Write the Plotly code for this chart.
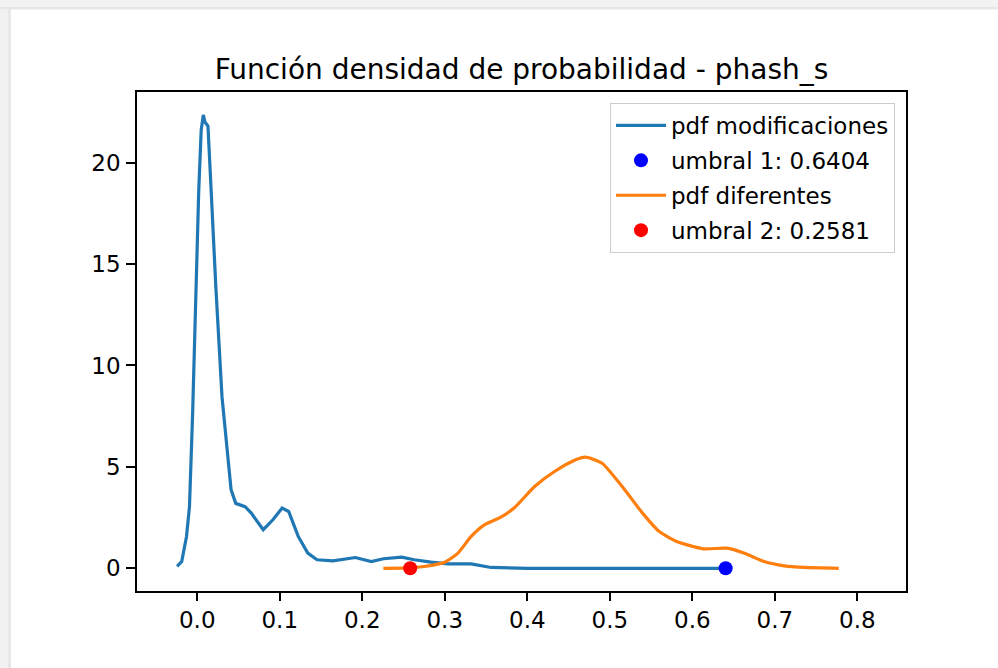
import plotly.graph_objects as go

# ---- data ----
mod_x = [-0.0244, -0.0188, -0.013, -0.0094, -0.0056, -0.0019, 0.0018, 0.0048, 0.0074, 0.0093,
         0.013, 0.0169, 0.0225, 0.030, 0.0355, 0.041, 0.0467, 0.058, 0.0655, 0.080,
         0.0917, 0.1029, 0.1108, 0.1224, 0.134, 0.1452, 0.1645, 0.1916, 0.211, 0.2256,
         0.248, 0.263, 0.2833, 0.304, 0.332, 0.356, 0.40, 0.50, 0.60, 0.6404]
mod_y = [0.09, 0.33, 1.57, 3.04, 7.6, 13.9, 18.6, 21.6, 22.35, 22.0,
         21.8, 18.6, 13.9, 8.46, 6.0, 3.87, 3.2, 3.04, 2.72, 1.9,
         2.39, 2.97, 2.8, 1.57, 0.75, 0.42, 0.37, 0.53, 0.33, 0.47,
         0.55, 0.42, 0.3, 0.22, 0.22, 0.04, 0.0, 0.0, 0.0, 0.0]

dif_x = [0.2256, 0.258, 0.275, 0.30, 0.316, 0.332, 0.348, 0.368, 0.384, 0.4089,
         0.433, 0.458, 0.4705, 0.4906, 0.515, 0.5397, 0.56, 0.581, 0.6135, 0.642,
         0.6625, 0.687, 0.7114, 0.7359, 0.7775]
dif_y = [0.0, 0.02, 0.09, 0.3, 0.75, 1.57, 2.14, 2.52, 2.97, 4.03,
         4.77, 5.34, 5.48, 5.18, 4.03, 2.72, 1.81, 1.32, 0.96, 0.99,
         0.75, 0.33, 0.12, 0.04, 0.0]

umbral1 = 0.6404
umbral2 = 0.2581

x_ticks = [0.0, 0.1, 0.2, 0.3, 0.4, 0.5, 0.6, 0.7, 0.8]
y_ticks = [0, 5, 10, 15, 20]

FONT = "DejaVu Sans"

fig = go.Figure()
fig.add_trace(go.Scatter(x=mod_x, y=mod_y, mode="lines", name="pdf modificaciones", legendgroup="a",
                         line=dict(color="#1f77b4", width=3.2)))
fig.add_trace(go.Scatter(x=[umbral1], y=[0], mode="markers", name=f"umbral 1: {umbral1}", legendgroup="b",
                         marker=dict(color="#0000ff", size=14)))
fig.add_trace(go.Scatter(x=dif_x, y=dif_y, mode="lines", name="pdf diferentes", legendgroup="c",
                         line=dict(color="#ff7f0e", width=3.2, shape="spline", smoothing=0.6)))
fig.add_trace(go.Scatter(x=[umbral2], y=[0], mode="markers", name=f"umbral 2: {umbral2}", legendgroup="d",
                         marker=dict(color="#ff0000", size=14)))

W, H = 998, 668
L, R, T, B = 137, 92, 92, 77
pw, ph = W - L - R, H - T - B

def px(p):
    return (p - L) / pw

def py(q):
    return (H - B - q) / ph

shapes = [
    dict(type="rect", xref="paper", yref="paper", x0=px(0), x1=px(W), y0=py(9), y1=py(0),
         fillcolor="#f3f3f3", line=dict(width=0), layer="below"),
    dict(type="rect", xref="paper", yref="paper", x0=px(0), x1=px(W), y0=py(9.5), y1=py(7),
         fillcolor="#e7e7e7", line=dict(width=0), layer="below"),
    dict(type="rect", xref="paper", yref="paper", x0=px(0), x1=px(11), y0=py(H), y1=py(9),
         fillcolor="#f1f1f1", line=dict(width=0), layer="below"),
    dict(type="rect", xref="paper", yref="paper", x0=px(8), x1=px(11), y0=py(H), y1=py(9),
         fillcolor="#e7e7e7", line=dict(width=0), layer="below"),
]

fig.update_layout(
    width=W, height=H,
    margin=dict(l=L, r=R, t=T, b=B),
    paper_bgcolor="white", plot_bgcolor="white",
    font=dict(family=FONT, size=23, color="#000000"),
    title=dict(text="Función densidad de probabilidad - phash_s", x=(L + pw / 2) / W,
               xanchor="center", y=1 - 69 / H, yanchor="middle",
               font=dict(family=FONT, size=28, color="#000000")),
    showlegend=True,
    legend=dict(x=px(895), y=py(103), xanchor="right", yanchor="top",
                bgcolor="rgba(255,255,255,0.8)", bordercolor="#cccccc", borderwidth=1,
                font=dict(family=FONT, size=23, color="#000000"), traceorder="grouped",
                tracegroupgap=2, itemwidth=50),
    shapes=shapes,
)
fig.update_xaxes(range=[-0.073, 0.859], tickvals=x_ticks, ticktext=[f"{v:.1f}" for v in x_ticks],
                 showgrid=False, zeroline=False, showline=True, linecolor="#000000", linewidth=1.5,
                 mirror=True, ticks="outside", ticklen=8, tickwidth=1.5, tickcolor="#000000",
                 tickfont=dict(family=FONT, size=23, color="#000000"))
fig.update_yaxes(range=[-1.12, 23.48], tickvals=y_ticks,
                 showgrid=False, zeroline=False, showline=True, linecolor="#000000", linewidth=1.5,
                 mirror=True, ticks="outside", ticklen=9, tickwidth=1.5, tickcolor="#000000",
                 ticklabelstandoff=1,
                 tickfont=dict(family=FONT, size=23, color="#000000"))

fig.write_html("out.html")
